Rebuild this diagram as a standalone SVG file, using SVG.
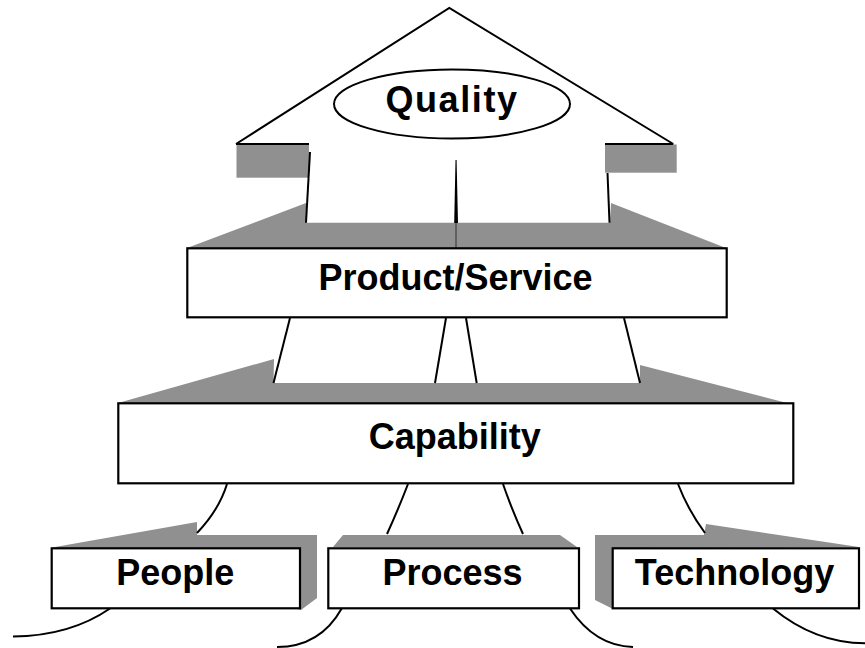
<svg xmlns="http://www.w3.org/2000/svg" width="865" height="648" viewBox="0 0 865 648">
  <style>
    .gray { fill: #909090; stroke: none; }
    .box { fill: #ffffff; stroke: #000000; stroke-width: 2.2; }
    .ln { fill: none; stroke: #000000; stroke-width: 2; }
    .lbl { font-family: "Liberation Sans", Arial, Helvetica, sans-serif; font-weight: bold; font-size: 36px; fill: #000000; text-anchor: middle; }
  </style>
  <rect x="0" y="0" width="865" height="648" fill="#ffffff"/>

  <g id="quality">
    <polygon class="gray" points="187,248 306,203 306,222.7 610,222.7 611,203 726,248"/>
    <polygon fill="#ffffff" points="236,144 449.3,8 673.3,144"/>
    <rect class="gray" x="236.5" y="144.5" width="72.5" height="33.2"/>
    <rect class="gray" x="605" y="144.5" width="71.7" height="28.2"/>
    <path class="ln" d="M236,144 L449.3,8 L673.3,144 M236,144 H309 M605,144 H673.3"/>
    <line class="ln" x1="310" y1="152" x2="306" y2="222.7"/>
    <line class="ln" x1="607.5" y1="173" x2="609.5" y2="222.7"/>
    <polygon fill="#000000" points="455.5,160 456.6,160 458,223 454.2,223"/>
    <line x1="456" y1="223" x2="456" y2="248" stroke="#505050" stroke-width="1.5"/>
    <ellipse cx="452" cy="104" rx="118" ry="34.5" fill="#ffffff" stroke="#000000" stroke-width="2"/>
    <text class="lbl" x="452" y="112" letter-spacing="1.6">Quality</text>
  </g>

  <g id="product-service">
    <rect class="box" x="187.3" y="248.3" width="539.4" height="69"/>
    <text class="lbl" x="455.5" y="290">Product/Service</text>
  </g>

  <g id="capability">
    <polygon class="gray" points="118,403 274,359 273.5,383 640,383 640,365 787,403"/>
    <rect class="box" x="118.3" y="403.3" width="675" height="80"/>
    <text class="lbl" x="454.7" y="449.3">Capability</text>
  </g>

  <g id="people">
    <polygon class="gray" points="55,547 197,522 197,535 317,535 317,598 301,610 52,548"/>
    <rect class="box" x="51.7" y="548.3" width="248.3" height="60"/>
    <text class="lbl" x="175.3" y="585">People</text>
  </g>

  <g id="process">
    <polygon class="gray" points="333,547 343,535 560,535 577,547"/>
    <rect class="box" x="328.3" y="548.3" width="250.7" height="60"/>
    <text class="lbl" x="452.5" y="585">Process</text>
  </g>

  <g id="technology">
    <polygon class="gray" points="595,535 704,535 706,524 859,547 613,548 613,609 595,600"/>
    <rect class="box" x="612.7" y="548.3" width="246.3" height="60"/>
    <text class="lbl" x="734.5" y="585">Technology</text>
  </g>

  <g id="connectors">
    <line class="ln" x1="290" y1="318" x2="273.5" y2="383"/>
    <line class="ln" x1="446" y1="318" x2="435" y2="383"/>
    <line class="ln" x1="466" y1="318" x2="476.7" y2="383"/>
    <line class="ln" x1="624" y1="318" x2="640" y2="383"/>
    <path class="ln" d="M227,484 Q219,510 197,533"/>
    <path class="ln" d="M408,484 Q398,510 387,534"/>
    <path class="ln" d="M503,484 Q512,510 523,534"/>
    <path class="ln" d="M678,484 Q688,510 705,533"/>
    <path class="ln" d="M110,608.5 Q70,636 13,636.5"/>
    <path class="ln" d="M341.7,608.5 Q320,647 277,647"/>
    <path class="ln" d="M570,608.5 Q595,646 633,647"/>
    <path class="ln" d="M773,608.5 Q815,643 865,643.3"/>
  </g>
</svg>
